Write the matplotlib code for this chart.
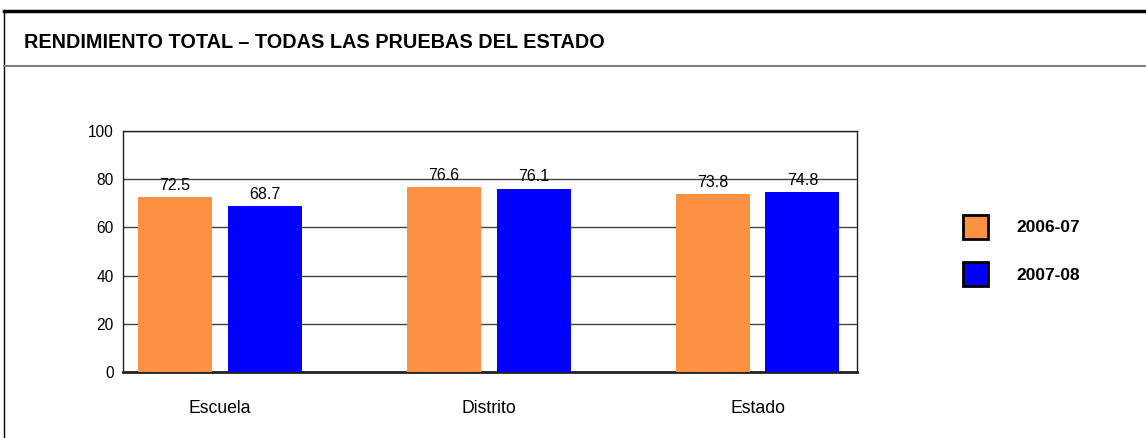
import matplotlib
matplotlib.use('Agg')
import matplotlib.pyplot as plt
import numpy as np
from matplotlib.lines import Line2D
from matplotlib.patches import Patch

# ---------------------------------------------------------------------------
CATEGORIES = ['Escuela', 'Distrito', 'Estado']
SERIES     = ['2006-07', '2007-08']
VALS_0607  = [72.5, 76.6, 73.8]
VALS_0708  = [68.7, 76.1, 74.8]
YTICKS     = [0, 20, 40, 60, 80, 100]
TITLE      = 'RENDIMIENTO TOTAL – TODAS LAS PRUEBAS DEL ESTADO'
COLORS     = ['#FF9142', '#0000FF']
# ---------------------------------------------------------------------------

plt.rcParams['font.family'] = ['Liberation Sans', 'DejaVu Sans']

W, H = 1146, 438
fig = plt.figure(figsize=(W / 100, H / 100), dpi=100)
ax = fig.add_axes([123 / W, 1 - 372 / H, (857 - 123) / W, (372 - 131) / H])

x = np.arange(len(CATEGORIES))
bw, off = 0.275, 0.167
for vals, color, dx in zip([VALS_0607, VALS_0708], COLORS, [-off, off]):
    bars = ax.bar(x + dx, vals, width=bw, color=color, zorder=3)
    for b, v in zip(bars, vals):
        ax.annotate(f'{v:.1f}', (b.get_x() + b.get_width() / 2, v),
                    xytext=(0, 3), textcoords='offset points',
                    ha='center', va='bottom', fontsize=11.5)

ax.set_xlim(-0.36, 2.37)
ax.set_ylim(0, 100)
ax.set_yticks(YTICKS)
ax.set_yticklabels([str(t) for t in YTICKS], fontsize=11.2)
ax.set_xticks(x)
ax.set_xticklabels(CATEGORIES, fontsize=12.7)
ax.tick_params(axis='x', length=0, pad=20)
ax.tick_params(axis='y', length=0, pad=6.5)
ax.yaxis.grid(True, color='#444444', linewidth=1, zorder=0)
for s in ['top', 'right', 'left']:
    ax.spines[s].set_color('#222222')
    ax.spines[s].set_linewidth(1)
ax.spines['bottom'].set_color('#222222')
ax.spines['bottom'].set_linewidth(2)

handles = [Patch(facecolor=c, edgecolor='black', linewidth=2) for c in COLORS]
leg = fig.legend(handles, SERIES, loc='upper left',
                 bbox_to_anchor=(947 / W, 1 - 199 / H), frameon=False,
                 handlelength=1.45, handleheight=1.75, handletextpad=1.65,
                 labelspacing=1.37, prop={'weight': 'bold', 'size': 12.5})

# frame and header
fig.add_artist(Line2D([4 / W, 1], [1 - 10.5 / H] * 2, color='black', linewidth=2.5))
fig.add_artist(Line2D([4 / W] * 2, [0, 1 - 10.5 / H], color='black', linewidth=1))
fig.add_artist(Line2D([4 / W, 1], [1 - 66 / H] * 2, color='#808080', linewidth=1.5))
fig.text(24 / W, 1 - 43 / H, TITLE, fontsize=14.3, weight='bold', va='center')

fig.savefig('out.png', dpi=100)
